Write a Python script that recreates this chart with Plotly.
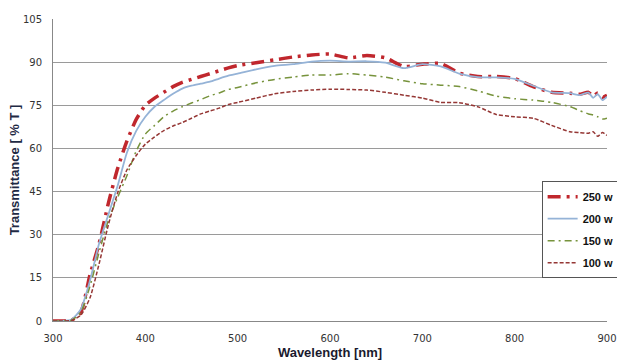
import plotly.graph_objects as go

wavelength = [300, 310, 320, 330, 340, 350, 360, 370, 380, 390, 400, 410, 420, 430, 440, 450,
              460, 470, 480, 490, 500, 520, 540, 560, 580, 600, 620, 640, 660, 680, 700, 720,
              740, 760, 780, 800, 820, 840, 860, 870, 880, 885, 890, 895, 900]

t250 = [0, 0, 0.3, 3, 16, 27, 41, 53, 62.5, 70, 75, 77.5, 79.5, 81.5, 83, 84,
        85, 86, 87, 88, 88.8, 89.8, 90.8, 91.8, 92.5, 92.8, 91.5, 92.3, 91.5, 88.5, 89.3, 89.5,
        86.2, 85, 85, 84.3, 81.5, 79.5, 79.2, 78.8, 79.5, 78.2, 79.3, 77.8, 78.5]
t200 = [0, 0, 0.5, 4, 14, 27, 37, 47, 58.5, 66, 71, 74.5, 76.8, 79, 80.8, 81.8,
        82.5, 83.2, 84.3, 85.3, 86, 87.5, 88.7, 89.3, 90.2, 90.5, 90.2, 90.3, 89.8, 87.9, 89.3, 88.5,
        86, 84.8, 84.7, 84.2, 81.8, 79.5, 79.2, 78.5, 79.4, 77.6, 78.9, 76.8, 78]
t150 = [0, 0, 0.3, 3, 12, 24, 35, 43, 50.5, 59, 65, 68, 71, 73, 74.5, 75.8,
        77, 78.3, 79.3, 80.5, 81.2, 82.8, 84, 84.8, 85.5, 85.5, 86, 85.5, 84.8, 83.5, 82.5, 82,
        81.5, 80, 78.2, 77.3, 76.8, 76, 74.5, 73.2, 72, 71.6, 71, 70.2, 70.5]
t100 = [0, 0, 0.2, 2, 8, 20, 33.5, 44.5, 52.5, 57.5, 61.5, 64, 66.2, 67.8, 69, 70.5,
        72, 73, 74, 75.3, 76, 77.5, 79, 79.8, 80.3, 80.6, 80.5, 80.3, 79.5, 78.5, 77.5, 76,
        75.9, 74.5, 71.8, 71, 70.5, 68, 65.8, 65.5, 65.3, 65.8, 64.2, 65.5, 64.5]

series = [
    ("250 w", t250, "#C0272D", 3.5, "13px,6px,3px,6px"),
    ("200 w", t200, "#95B3D7", 1.8, "solid"),
    ("150 w", t150, "#77933C", 1.5, "7px,4px,2px,4px"),
    ("100 w", t100, "#953735", 1.5, "4px,2px"),
]

x_ticks = [300, 400, 500, 600, 700, 800, 900]
y_ticks = [0, 15, 30, 45, 60, 75, 90, 105]

fig = go.Figure()
for name, vals, color, width, dash in series:
    fig.add_trace(go.Scatter(
        x=wavelength, y=vals, name=name, mode="lines", legendgroup=name,
        line=dict(color=color, width=width, dash=dash, shape="spline", smoothing=0.6),
    ))

fig.update_layout(
    width=617, height=361,
    margin=dict(l=53, r=10, t=19, b=40, autoexpand=False),
    paper_bgcolor="white", plot_bgcolor="white",
    font=dict(family="DejaVu Sans", size=10, color="#333333"),
    showlegend=True,
    legend=dict(
        x=0.882, y=0.463, xanchor="left", yanchor="top",
        bgcolor="white", bordercolor="#555555", borderwidth=1,
        font=dict(family="Liberation Sans", size=11, color="#111111", weight="bold"),
        itemwidth=30, traceorder="grouped", tracegroupgap=3,
    ),
    xaxis=dict(
        range=[300, 900], tickmode="array", tickvals=x_ticks,
        ticktext=[str(v) for v in x_ticks], automargin=False,
        showgrid=False, zeroline=False, showline=True, linecolor="#888888", linewidth=1,
        ticks="", ticklabelstandoff=8,
        title=dict(text="<b>Wavelength [nm]</b>", standoff=4,
                   font=dict(family="Liberation Sans", size=13, color="#1a1a2e")),
    ),
    yaxis=dict(
        range=[0, 105], tickmode="array", tickvals=y_ticks,
        ticktext=[str(v) for v in y_ticks], automargin=False,
        showgrid=True, gridcolor="#9a9a9a", gridwidth=1, zeroline=False,
        showline=True, linecolor="#888888", linewidth=1,
        ticks="", ticklabelstandoff=8,
        title=dict(text="<b>Transmittance [ % T ]</b>", standoff=0,
                   font=dict(family="Liberation Sans", size=13, color="#1F2A44")),
    ),
)

fig.write_html("out.html", config={"displayModeBar": False},
               post_script="document.body.style.margin='0';document.body.style.overflow='hidden';")
